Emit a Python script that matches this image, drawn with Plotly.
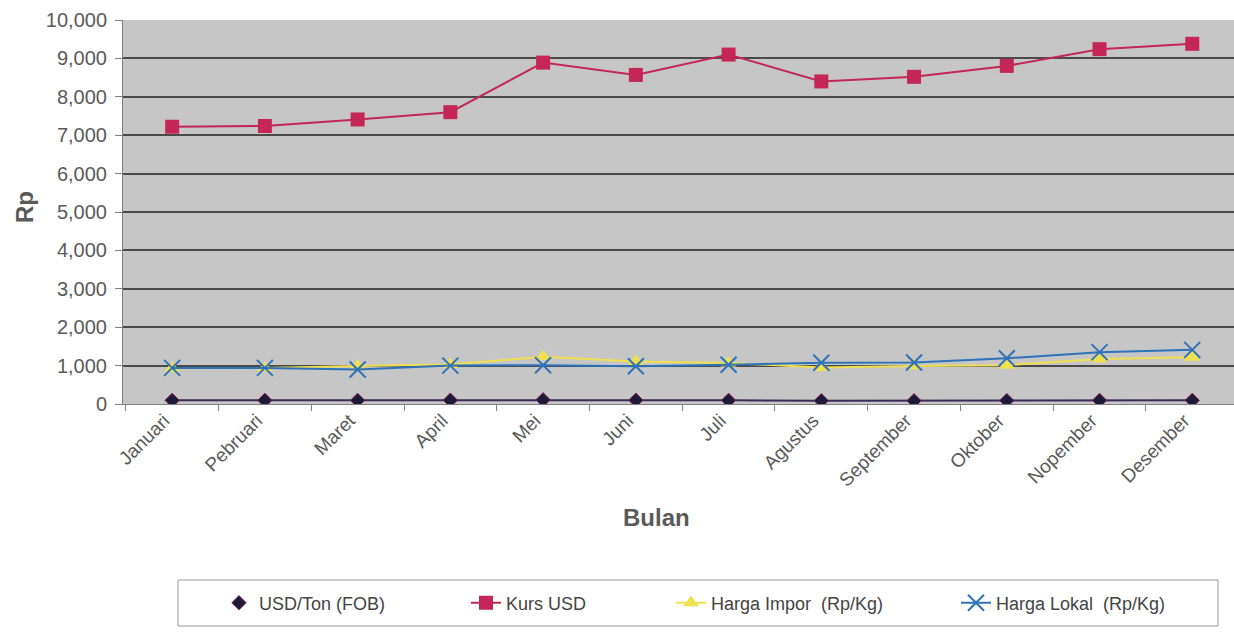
import plotly.graph_objects as go

bulan = ["Januari", "Pebruari", "Maret", "April", "Mei", "Juni", "Juli",
         "Agustus", "September", "Oktober", "Nopember", "Desember"]
usd_ton_fob = [95, 95, 95, 100, 110, 100, 95, 85, 85, 90, 95, 95]
kurs_usd = [7220, 7240, 7410, 7600, 8890, 8570, 9100, 8400, 8520, 8805, 9240, 9380]
harga_impor = [930, 935, 990, 1030, 1230, 1110, 1070, 950, 990, 1010, 1170, 1220]
harga_lokal = [940, 940, 900, 1000, 1010, 985, 1020, 1075, 1080, 1190, 1350, 1410]
y_ticks = [0, 1000, 2000, 3000, 4000, 5000, 6000, 7000, 8000, 9000, 10000]

FONT = "Liberation Sans, Arial, sans-serif"
TXT = "#5a5a5a"

# plot-area geometry in pixels (used only to place text/legends in paper coords)
L, R, T, B = 123, 1234, 20, 404
PW, PH = R - L, B - T


def px(xp):
    return (xp - L) / PW


def py(yp):
    return (B - yp) / PH


fig = go.Figure()
fig.add_trace(go.Scatter(x=bulan, y=usd_ton_fob, mode="lines",
                         line=dict(color="#3a2a5a", width=2), showlegend=False,
                         hoverinfo="skip"))
fig.add_trace(go.Scatter(x=bulan, y=usd_ton_fob, mode="markers", name="USD/Ton (FOB)",
                         legend="legend",
                         marker=dict(symbol="diamond", size=11, color="#1a1a3a",
                                     line=dict(color="#8a2040", width=1))))
fig.add_trace(go.Scatter(x=bulan, y=kurs_usd, mode="lines+markers", name="Kurs USD",
                         legend="legend2",
                         line=dict(color="#c4265a", width=2),
                         marker=dict(symbol="square", size=14, color="#c4265a")))
fig.add_trace(go.Scatter(x=bulan, y=harga_impor, mode="lines+markers",
                         name="Harga Impor  (Rp/Kg)", legend="legend3",
                         line=dict(color="#f0e050", width=2),
                         marker=dict(symbol="triangle-up", size=14, color="#f0e050")))
fig.add_trace(go.Scatter(x=bulan, y=harga_lokal, mode="lines+markers",
                         name="Harga Lokal  (Rp/Kg)", legend="legend4",
                         line=dict(color="#2f72b8", width=2),
                         marker=dict(symbol="x-thin-open", size=16,
                                     line=dict(color="#2f72b8", width=2))))

leg_common = dict(orientation="h", xanchor="left", yanchor="middle", y=py(603),
                  bgcolor="rgba(0,0,0,0)", borderwidth=0,
                  font=dict(size=18, color="#444444", family=FONT))

fig.update_layout(
    width=1234, height=636,
    margin=dict(l=L, r=1234 - R, t=T, b=636 - B, autoexpand=False),
    paper_bgcolor="white",
    plot_bgcolor="#c6c6c6",
    font=dict(family=FONT, color=TXT, size=18),
    showlegend=True,
    xaxis=dict(
        range=[-0.53, 11.45],
        tickangle=-45,
        tickfont=dict(size=19, color=TXT),
        showgrid=False, automargin=False,
        showline=True, linecolor="#808080", linewidth=1,
        ticks="outside", tickcolor="#808080", ticklen=6,
        tickson="boundaries",
        ticklabelshift=-8,
        ticklabelstandoff=-3,
    ),
    yaxis=dict(
        range=[0, 10000],
        tickvals=y_ticks,
        tickformat=",d",
        tickfont=dict(size=20, color=TXT),
        automargin=False,
        showgrid=True, gridcolor="#4a4a4a", gridwidth=1.5,
        showline=True, linecolor="#808080", linewidth=1,
        ticks="outside", tickcolor="#808080", ticklen=7,
        ticklabelstandoff=4,
        zeroline=False,
    ),
    legend=dict(leg_common, x=px(219)),
    legend2=dict(leg_common, x=px(466)),
    legend3=dict(leg_common, x=px(671)),
    legend4=dict(leg_common, x=px(956)),
    shapes=[dict(type="rect", xref="paper", yref="paper",
                 x0=px(178), x1=px(1218), y0=py(580), y1=py(626),
                 fillcolor="white", line=dict(color="#999999", width=1),
                 layer="below")],
    annotations=[
        dict(text="<b>Bulan</b>", xref="paper", yref="paper", x=px(656), y=py(517),
             xanchor="center", yanchor="middle", showarrow=False,
             font=dict(size=24, color=TXT, family=FONT)),
        dict(text="<b>Rp</b>", xref="paper", yref="paper", x=px(24), y=py(207),
             xanchor="center", yanchor="middle", showarrow=False, textangle=-90,
             font=dict(size=24, color=TXT, family=FONT)),
    ],
)

fig.write_html("out.html",
               config={"displayModeBar": False},
               post_script="document.body.style.margin='0';document.body.style.overflow='hidden';")
